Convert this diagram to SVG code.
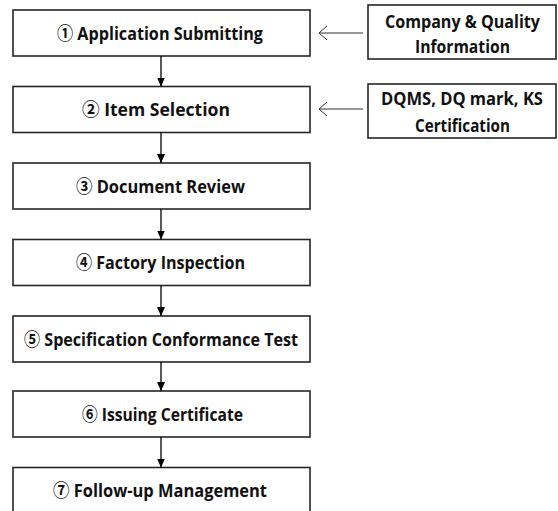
<svg xmlns="http://www.w3.org/2000/svg" width="558" height="511" viewBox="0 0 558 511">
<style>
.box{fill:#fff;stroke:#262626;stroke-width:1.6}
.t{font-family:"Open Sans","Noto Sans CJK KR",sans-serif;font-weight:bold;font-size:18.5px;fill:#111;text-anchor:middle}
.s{font-size:17px}
.c{stroke:#000;stroke-width:1.3;fill:none}
.o{stroke:#333;stroke-width:1;fill:none}
</style>
<defs>
<marker id="ah" markerWidth="10" markerHeight="8" refX="9" refY="4" orient="auto" markerUnits="userSpaceOnUse">
<path d="M0,0 L9,4 L0,8 Z" fill="#000"/>
</marker>
</defs>
<g id="n1"><rect class="box" x="13" y="10" width="297" height="46"/><text class="t" x="160" y="39.5" textLength="206" lengthAdjust="spacingAndGlyphs">① Application Submitting</text></g>
<g id="n2"><rect class="box" x="13" y="86.5" width="297" height="46"/><text class="t" x="156" y="116" textLength="148" lengthAdjust="spacingAndGlyphs">② Item Selection</text></g>
<g id="n3"><rect class="box" x="13" y="163" width="297" height="46"/><text class="t" x="160.5" y="192.5" textLength="169" lengthAdjust="spacingAndGlyphs">③ Document Review</text></g>
<g id="n4"><rect class="box" x="13" y="239.5" width="297" height="46"/><text class="t" x="160.5" y="269" textLength="169" lengthAdjust="spacingAndGlyphs">④ Factory Inspection</text></g>
<g id="n5"><rect class="box" x="13" y="316" width="297" height="46"/><text class="t" x="161" y="345.5" textLength="274" lengthAdjust="spacingAndGlyphs">⑤ Specification Conformance Test</text></g>
<g id="n6"><rect class="box" x="13" y="391" width="297" height="46"/><text class="t" x="162.5" y="420.5" textLength="161" lengthAdjust="spacingAndGlyphs">⑥ Issuing Certificate</text></g>
<g id="n7"><rect class="box" x="13" y="467.5" width="297" height="50"/><text class="t" x="160" y="497" textLength="214" lengthAdjust="spacingAndGlyphs">⑦ Follow-up Management</text></g>
<g id="a"><rect class="box" x="368" y="5" width="188" height="54"/><text class="t s" x="462.5" y="28" textLength="155" lengthAdjust="spacingAndGlyphs">Company &amp; Quality</text><text class="t s" x="462.5" y="53" textLength="95" lengthAdjust="spacingAndGlyphs">Information</text></g>
<g id="b"><rect class="box" x="368" y="84" width="188" height="54"/><text class="t s" x="462" y="105" textLength="162" lengthAdjust="spacingAndGlyphs">DQMS, DQ mark, KS</text><text class="t s" x="462.5" y="132" textLength="95" lengthAdjust="spacingAndGlyphs">Certification</text></g>
<g id="connectors">
<line class="c" x1="161" y1="56" x2="161" y2="86.5" marker-end="url(#ah)"/>
<line class="c" x1="161" y1="132.5" x2="161" y2="163" marker-end="url(#ah)"/>
<line class="c" x1="161" y1="209" x2="161" y2="239.5" marker-end="url(#ah)"/>
<line class="c" x1="161" y1="285.5" x2="161" y2="316" marker-end="url(#ah)"/>
<line class="c" x1="161" y1="362" x2="161" y2="391" marker-end="url(#ah)"/>
<line class="c" x1="161" y1="437" x2="161" y2="467.5" marker-end="url(#ah)"/>
<path class="o" d="M363,33 H319 M327,26 L319,33 L327,40"/>
<path class="o" d="M363,109 H319 M327,102 L319,109 L327,116"/>
</g>
</svg>
